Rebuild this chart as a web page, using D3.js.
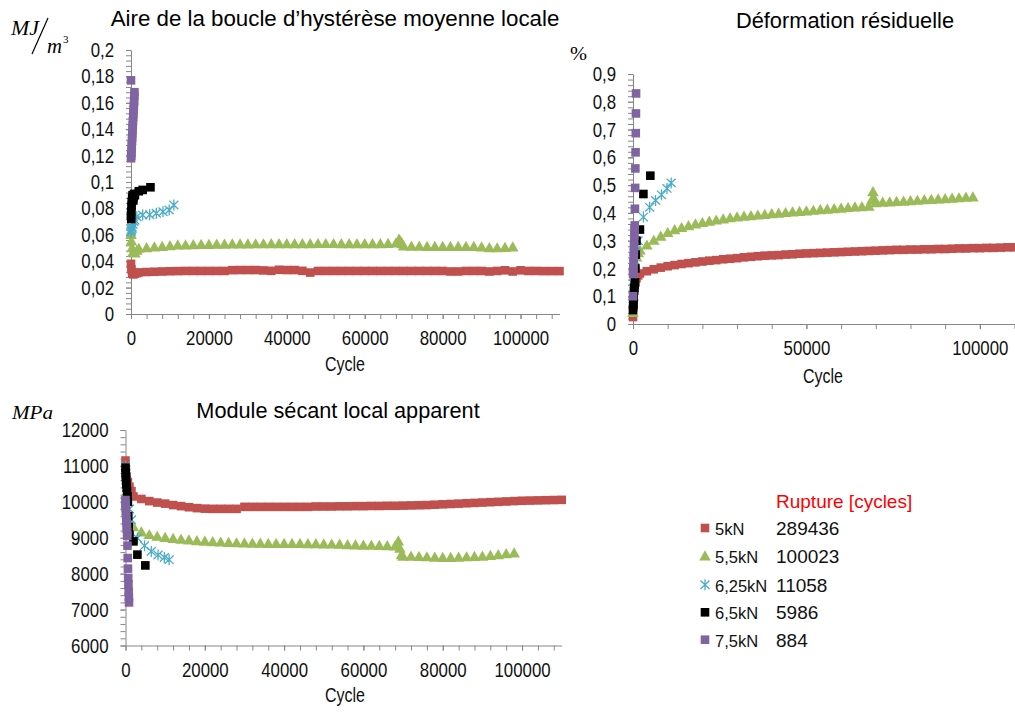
<!DOCTYPE html>
<html><head><meta charset="utf-8">
<script src="https://cdn.jsdelivr.net/npm/d3@7"></script>
<style>body{margin:0;background:#fff}svg{display:block}text{font-family:"Liberation Sans",Arial,sans-serif}</style>
</head><body><svg id="c" width="1015" height="713"></svg>
<script>
// ---------------- DATA ----------------
const seriesNames = ["5kN", "5,5kN", "6,25kN", "6,5kN", "7,5kN"];
const ruptureCycles = ["289436", "100023", "11058", "5986", "884"];

// cycles sampled for each load level
const cycRed = [0,100,300,600,1000,1500,
  2000,4000,6000,8000,10000,12000,14000,16000,18000,20000,22000,24000,26000,28000,30000,
  32000,34000,36000,38000,40000,42000,44000,46000,48000,50000,52000,54000,56000,58000,60000,
  62000,64000,66000,68000,70000,72000,74000,76000,78000,80000,82000,84000,86000,88000,90000,
  92000,94000,96000,98000,100000,102000,104000,106000,108000,110000];
const cycGreen = [0,100,300,600,1000,1500,
  2000,4000,6000,8000,10000,12000,14000,16000,18000,20000,22000,24000,26000,28000,30000,
  32000,34000,36000,38000,40000,42000,44000,46000,48000,50000,52000,54000,56000,58000,60000,
  62000,64000,66000,68000,68800,69200,69600,
  70000,72000,74000,76000,78000,80000,82000,84000,86000,88000,90000,92000,94000,96000,98000];
const cycCyan = [0,50,100,200,300,500,700,1000,1500,3000,4800,6500,8200,9800,11000];
const cycBlack = [0,50,100,150,200,300,400,500,600,700,800,1000,2000,3000,5000];
const cycPurple = [0,20,50,100,150,200,250,300,350,400,450,500,560,620,680,740,800,850,884];

// Chart 1: Aire de la boucle (MJ/m3)
const areaRed = [0.038,0.034,0.031,0.030,0.0305,0.031,
  0.0315,0.0318,0.032,0.0322,0.0324, 0.0325,0.0326,0.0326,0.0326,0.0326,
  0.0326,0.0326,0.0332,0.0333,0.0333, 0.0333,0.033,0.0327,0.0335,0.0333,
  0.0333,0.0327,0.0314,0.0326,0.0326, 0.0326,0.0326,0.0326,0.0326,0.0326,
  0.0326,0.0326,0.0326,0.0326,0.0326, 0.0326,0.0326,0.0326,0.0326,0.0326,
  0.0322,0.0322,0.0326,0.0326,0.0326, 0.0322,0.0326,0.0331,0.0322,0.0331,
  0.0326,0.0326,0.0325,0.0325,0.0325];
const areaGreen = [0.06,0.055,0.05,0.047,0.046,0.048,
  0.0495,0.050,0.0505,0.051,0.0515,0.052,0.052,0.0523,0.0525,0.0525,
  0.0527,0.0527,0.0528,0.0528,0.0528,0.0529,0.0529,0.053,0.053,0.053,
  0.053,0.053,0.053,0.0531,0.0531,0.0531,0.053,0.053,0.053,0.053,
  0.053,0.053,0.0532,0.0535,
  0.0565,0.055,0.053,
  0.0512,0.0511,0.0511,0.051,0.051,0.051,0.051,0.051,0.051,0.051,0.0505,0.050,0.0499,0.0502,0.0505];
const areaCyan = [0.062,0.063,0.064,0.066,0.065,0.068,0.07,0.071,0.0737,0.075,0.0752,0.0763,0.0775,0.0788,0.0826];
const areaBlack = [0.075,0.072,0.078,0.082,0.085,0.088,0.09,0.087,0.086,0.089,0.091,0.09,0.093,0.094,0.096];
const areaPurple = [0.177,0.118,0.12,0.122,0.125,0.128,0.131,0.134,0.137,0.14,0.143,0.146,0.149,0.152,0.155,0.158,0.161,0.165,0.168];

// Chart 2: Déformation résiduelle (%)
const defRed = [0.025,0.07,0.12,0.15,0.165,0.175,
  0.182,0.19,0.197,0.203,0.208, 0.212,0.216,0.219,0.222,0.225,
  0.228,0.23,0.233,0.235,0.237, 0.24,0.242,0.244,0.246,0.247,
  0.248,0.25,0.251,0.253,0.254, 0.255,0.256,0.257,0.258,0.259,
  0.26,0.261,0.262,0.263,0.264, 0.265,0.266,0.267,0.267,0.268,
  0.268,0.269,0.269,0.27,0.27, 0.271,0.272,0.272,0.273,0.273,
  0.274,0.274,0.275,0.276,0.276];
const defGreen = [0.04,0.1,0.17,0.21,0.24,0.255,
  0.265,0.283,0.3,0.315,0.328,0.338,0.346,0.353,0.359,0.364,
  0.369,0.373,0.377,0.381,0.384,0.387,0.389,0.391,0.393,0.396,
  0.398,0.4,0.402,0.404,0.406,0.408,0.41,0.412,0.414,0.416,
  0.418,0.42,0.421,0.423,
  0.445,0.475,0.45,
  0.435,0.437,0.438,0.44,0.441,0.443,0.444,0.446,0.447,0.449,0.45,0.452,0.453,0.455,0.456];
const defCyan = [0.08,0.1,0.13,0.17,0.2,0.23,0.26,0.28,0.3,0.385,0.42,0.445,0.465,0.488,0.508];
const defBlack = [0.05,0.06,0.07,0.09,0.1,0.12,0.13,0.14,0.15,0.2,0.25,0.3,0.34,0.468,0.534];
const defPurple = [0.1,0.18,0.19,0.2,0.22,0.24,0.26,0.28,0.3,0.32,0.34,0.355,0.415,0.49,0.56,0.618,0.687,0.758,0.83];

// Chart 3: Module sécant local apparent (MPa)
const modRed = [11150,10900,10700,10550,10420,10300,
  10150,10080,10020,9980,9950, 9910,9880,9850,9825,9810,
  9805,9805,9805,9805,9860, 9860,9860,9860,9860,9860,
  9860,9860,9860,9870,9870, 9870,9875,9875,9880,9880,
  9885,9885,9890,9890,9895, 9900,9905,9910,9920,9930,
  9940,9950,9960,9970,9980, 9990,10000,10010,10020,10030,
  10035,10040,10045,10050,10055];
const modGreen = [10200,9900,9700,9500,9400,9350,
  9300,9150,9080,9030,9000,8970,8950,8930,8910,8895,
  8880,8870,8860,8850,8845,8840,8840,8835,8835,8830,
  8830,8830,8825,8825,8820,8815,8810,8800,8790,8785,
  8780,8775,8770,8760,
  8900,8700,8520,
  8480,8475,8470,8460,8450,8445,8445,8450,8460,8470,8480,8500,8520,8545,8570];
const modCyan = [11000,10900,10800,10600,10400,10200,10000,9800,9500,8990,8780,8620,8520,8450,8390];
const modBlack = [10950,10800,10700,10600,10500,10400,10300,10150,10000,9600,9300,9080,8900,8530,8230];
const modPurple = [10050,9950,9850,9750,9650,9550,9450,9350,9250,9150,9050,8780,8435,8140,7880,7700,7500,7350,7200];

// axis ticks
const cycleTicksA = [0,20000,40000,60000,80000,100000];
const cycleTicksB = [0,50000,100000];
const areaTicks = [0,0.02,0.04,0.06,0.08,0.1,0.12,0.14,0.16,0.18,0.2];
const defTicks = [0,0.1,0.2,0.3,0.4,0.5,0.6,0.7,0.8,0.9];
const modTicks = [6000,7000,8000,9000,10000,11000,12000];

// ---------------- DRAWING ----------------
const COL = ["#C0504D", "#9BBB59", "#4BACC6", "#000000", "#8064A2"];
const SHAPES = ["square", "triangle", "star", "square", "square"];
const svg = d3.select("#c");
const AXC = "#868686";

// narrow font detection
const cv = document.createElement("canvas").getContext("2d");
cv.font = '20px "Liberation Sans Narrow", monospace'; const wN = cv.measureText("0000000000").width;
cv.font = '20px monospace'; const wM = cv.measureText("0000000000").width;
const hasNarrow = Math.abs(wN - wM) > 0.5;
function narrow(sel, size) {
  sel.style("font-family", '"Liberation Sans Narrow","Liberation Sans",Arial,sans-serif').style("font-size", size + "px");
  if (!hasNarrow) sel.each(function(){ const w = this.getComputedTextLength(); d3.select(this).attr("textLength", w*0.82).attr("lengthAdjust","spacingAndGlyphs"); });
}

function marker(g, shape, color) {
  if (shape === "square") g.append("rect").attr("x",-4.3).attr("y",-4.3).attr("width",8.6).attr("height",8.6).attr("fill",color);
  else if (shape === "triangle") g.append("path").attr("d","M0,-6L5.8,4.2L-5.8,4.2Z").attr("fill",color);
  else g.append("path").attr("d","M0,-5.5V5.5M-4.5,-4.2L4.5,4.2M-4.5,4.2L4.5,-4.2").attr("stroke",color).attr("stroke-width",1.3).attr("fill","none");
}

function drawChart(cfg) {
  const g = svg.append("g");
  const x = d3.scaleLinear().domain([0, 110000]).range(cfg.xr);
  const y = d3.scaleLinear().domain(cfg.yd).range(cfg.yr);
  const x0 = cfg.xr[0], yb = cfg.yr[0];
  // minor ticks
  const xMinor = d3.range(0, 110001, cfg.xMinorStep);
  const yMinor = d3.range(0, Math.round((cfg.yd[1]-cfg.yd[0])/cfg.yMinorStep)+1).map(i => cfg.yd[0] + i*cfg.yMinorStep);
  g.append("g").attr("transform",`translate(0,${yb})`).call(d3.axisBottom(x).tickValues(xMinor).tickSize(5).tickFormat(""))
    .call(a => a.select(".domain").remove());
  g.append("g").attr("transform",`translate(${x0},0)`).call(d3.axisLeft(y).tickValues(yMinor).tickSize(5).tickFormat(""))
    .call(a => a.select(".domain").remove());
  const xa = g.append("g").attr("transform",`translate(0,${yb})`)
    .call(d3.axisBottom(x).tickValues(cfg.xTicks).tickSize(5).tickSizeOuter(0).tickPadding(11.5).tickFormat(d3.format("d")));
  const ya = g.append("g").attr("transform",`translate(${x0},0)`)
    .call(d3.axisLeft(y).tickValues(cfg.yTicks).tickSize(5).tickSizeOuter(0).tickPadding(12).tickFormat(cfg.fmt));
  g.selectAll(".tick line, .domain").attr("stroke", AXC);
  [xa, ya].forEach(a => { a.selectAll("text").attr("fill","#111"); narrow(a.selectAll("text"), 20.5); });
  // series
  cfg.series.forEach((s, i) => {
    const sg = g.append("g");
    s.cyc.forEach((c, k) => {
      const m = sg.append("g").attr("transform", `translate(${x(c)},${y(s.val[k])})`);
      marker(m, SHAPES[i], COL[i]);
    });
  });
  // titles
  g.append("text").attr("x", cfg.title[1]).attr("y", cfg.title[2]).attr("text-anchor","middle")
    .style("font-size", cfg.title[3] + "px").attr("fill","#000").text(cfg.title[0]);
  const ct = g.append("text").attr("x", cfg.cyc[0]).attr("y", cfg.cyc[1]).attr("text-anchor","middle").attr("fill","#111").text("Cycle");
  narrow(ct, 19.5);
}

const fmtDec = d => d === 0 ? "0" : String(+d.toFixed(2)).replace(".", ",");

drawChart({xr:[131,559.5], yr:[314,50], yd:[0,0.2], xTicks:cycleTicksA, yTicks:areaTicks, xMinorStep:4000, yMinorStep:0.004, fmt:fmtDec,
  title:["Aire de la boucle d\u2019hystérèse moyenne locale", 335, 26, 22.3], cyc:[345,371],
  series:[{cyc:cycRed,val:areaRed},{cyc:cycGreen,val:areaGreen},{cyc:cycCyan,val:areaCyan},{cyc:cycBlack,val:areaBlack},{cyc:cycPurple,val:areaPurple}]});
drawChart({xr:[633,1014.5], yr:[324,74], yd:[0,0.9], xTicks:cycleTicksB, yTicks:defTicks, xMinorStep:10000, yMinorStep:0.02, fmt:fmtDec,
  title:["Déformation résiduelle", 845, 28, 21.8], cyc:[823,383],
  series:[{cyc:cycRed,val:defRed},{cyc:cycGreen,val:defGreen},{cyc:cycCyan,val:defCyan},{cyc:cycBlack,val:defBlack},{cyc:cycPurple,val:defPurple}]});
drawChart({xr:[125.5,561.7], yr:[645.5,430], yd:[6000,12000], xTicks:cycleTicksA, yTicks:modTicks, xMinorStep:4000, yMinorStep:200, fmt:d3.format("d"),
  title:["Module sécant local apparent", 338, 418, 21.7], cyc:[345,702],
  series:[{cyc:cycRed,val:modRed},{cyc:cycGreen,val:modGreen},{cyc:cycCyan,val:modCyan},{cyc:cycBlack,val:modBlack},{cyc:cycPurple,val:modPurple}]});

// unit labels
const serif = '"Liberation Serif","Times New Roman",serif';
svg.append("text").attr("x",11).attr("y",35).style("font-family",serif).style("font-style","italic").style("font-size","20px")
  .attr("textLength",28).attr("lengthAdjust","spacingAndGlyphs").text("MJ");
svg.append("line").attr("x1",32).attr("y1",54).attr("x2",48).attr("y2",18).attr("stroke","#000").attr("stroke-width",1.2);
svg.append("text").attr("x",47).attr("y",53).style("font-family",serif).style("font-style","italic").style("font-size","20px")
  .attr("textLength",15).attr("lengthAdjust","spacingAndGlyphs").text("m");
svg.append("text").attr("x",63).attr("y",43).style("font-family",serif).style("font-size","11px").text("3");
svg.append("text").attr("x",570).attr("y",60).style("font-family",serif).style("font-size","19px")
  .attr("textLength",17).attr("lengthAdjust","spacingAndGlyphs").text("%");
svg.append("text").attr("x",12).attr("y",419).style("font-family",serif).style("font-style","italic").style("font-size","19px")
  .attr("textLength",41).attr("lengthAdjust","spacingAndGlyphs").text("MPa");

// legend
const lg = svg.append("g");
lg.append("text").attr("x",776).attr("y",508).style("font-size","19px").attr("fill","#FF0000").text("Rupture [cycles]");
const rowY = [535, 563.3, 591.7, 619.3, 646.7];
seriesNames.forEach((n, i) => {
  const m = lg.append("g").attr("transform",`translate(705,${rowY[i]-7})`);
  marker(m, SHAPES[i], COL[i]);
  lg.append("text").attr("x",715).attr("y",rowY[i]).style("font-size","16.5px").attr("fill","#111").text(n);
  lg.append("text").attr("x",776).attr("y",rowY[i]).style("font-size","19px").attr("fill","#111").text(ruptureCycles[i]);
});
</script></body></html>
